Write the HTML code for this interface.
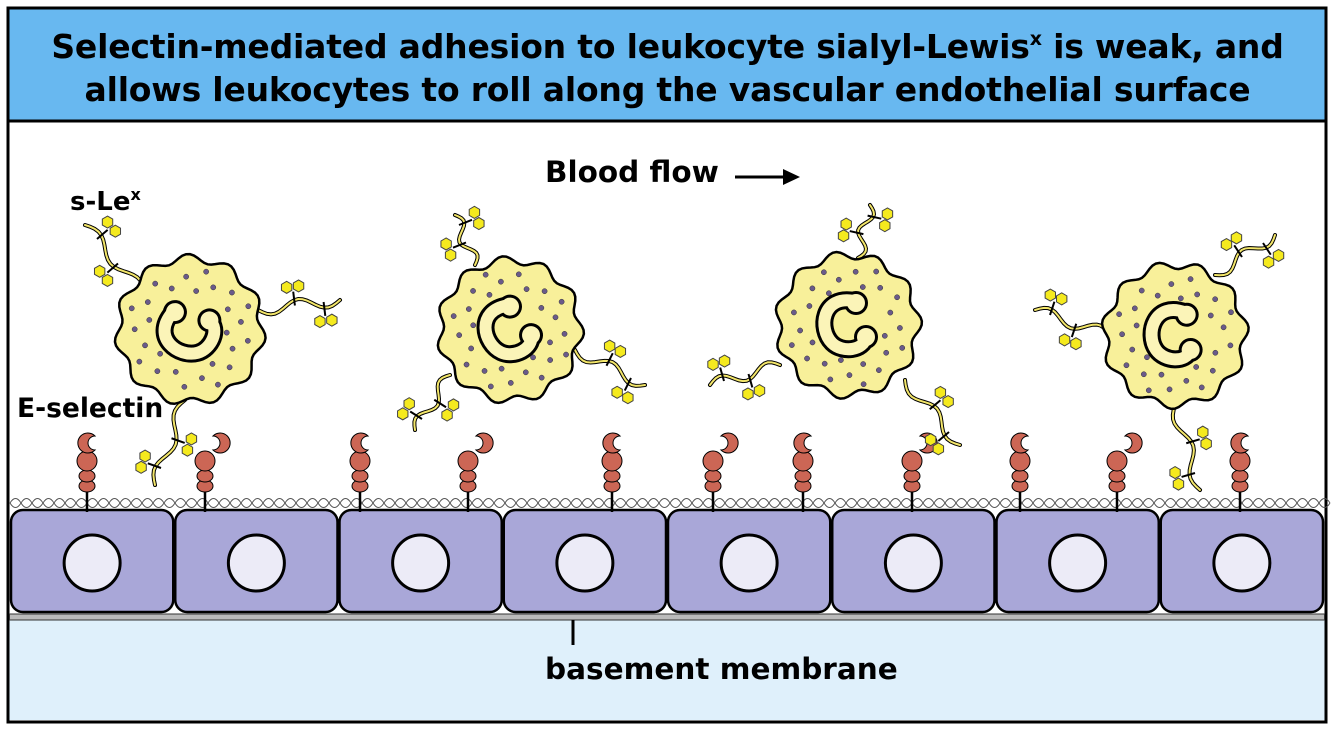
<!DOCTYPE html>
<html><head><meta charset="utf-8"><style>
html,body{margin:0;padding:0;background:#fff;}
body{width:1334px;height:731px;overflow:hidden;position:relative;font-family:"DejaVu Sans","Liberation Sans",sans-serif;}
svg{position:absolute;left:0;top:0;}
.t{position:absolute;font-weight:bold;color:#000;white-space:nowrap;transform-origin:0 0;}
</style></head><body>
<svg id="s" width="1334" height="731" viewBox="0 0 1334 731">
<rect x="8" y="8" width="1318" height="714" fill="#fff" stroke="#000" stroke-width="3"/>
<rect x="9.5" y="9.5" width="1315" height="111" fill="#68b8f0"/>
<line x1="8" y1="121" x2="1326" y2="121" stroke="#000" stroke-width="3"/>
<rect x="9.5" y="620" width="1315" height="100" fill="#dff0fb"/>
<rect x="9.5" y="614" width="1315" height="6" fill="#bbb" stroke="#333" stroke-width="1"/>
<line x1="573" y1="620" x2="573" y2="645" stroke="#000" stroke-width="3"/>
<path d="M735 177 H785" stroke="#000" stroke-width="3"/>
<path d="M783 169 L800 177 L783 185 Z" fill="#000"/>
<g id="g"></g>
</svg>
<div class="t" style="left:10px;width:1315px;top:25px;text-align:center;font-size:33px;line-height:43px;letter-spacing:-0.2px;">Selectin-mediated adhesion to leukocyte sialyl-Lewis<sup style="font-size:19px;vertical-align:13px;line-height:0">x</sup> is weak, and<br>allows leukocytes to roll along the vascular endothelial surface</div>
<div class="t" style="left:545px;top:155px;font-size:29.5px;">Blood flow</div>
<div class="t" style="left:70px;top:187px;font-size:26px;">s-Le<sup style="font-size:16px;vertical-align:10px;line-height:0">x</sup></div>
<div class="t" style="left:17px;top:393px;font-size:26.5px;">E-selectin</div>
<div class="t" style="left:545px;top:652px;font-size:29.5px;">basement membrane</div>
<script>
const NS="http://www.w3.org/2000/svg";const g=document.getElementById('g');
function el(n,a){const e=document.createElementNS(NS,n);for(const k in a)e.setAttribute(k,a[k]);g.appendChild(e);return e;}
let d="";for(let x=10;x<1324;x+=22){d+=`M${x} 503 q5.5 -9 11 0 q5.5 9 11 0 `;}
el('path',{d:d,fill:'none',stroke:'#555','stroke-width':1});
d="";for(let x=10;x<1324;x+=22){d+=`M${x} 503 q5.5 9 11 0 q5.5 -9 11 0 `;}
el('path',{d:d,fill:'none',stroke:'#555','stroke-width':1});
const cw=(1324-10)/8;
for(let i=0;i<8;i++){const x=10+i*cw;
el('rect',{x:x+1,y:510,width:cw-2,height:102,rx:12,fill:'#a9a7d8',stroke:'#000','stroke-width':2.5});
el('circle',{cx:x+cw/2,cy:563,r:28,fill:'#ecebf7',stroke:'#000','stroke-width':3});}
[87,205,360,468,612,713,803,912,1020,1117,1240].forEach((x,i)=>{
el('line',{x1:x,y1:488,x2:x,y2:512,stroke:'#000','stroke-width':2.5});
const c='#cc6655';const st={fill:c,stroke:'#000','stroke-width':1};
el('ellipse',Object.assign({cx:x,cy:486,rx:8,ry:6},st));
el('ellipse',Object.assign({cx:x,cy:476,rx:8,ry:6},st));
el('circle',Object.assign({cx:x,cy:461,r:10},st));
const dir=(i%2==0)?1:-1;
el('path',Object.assign({d:`M${x+8*dir} 436 A10 10 0 1 0 ${x+8*dir} 450 A7 7 0 0 1 ${x+8*dir} 436 Z`,transform:dir<0?`translate(${2*x},0) scale(-1,1)`:''},st));
});
function hex(x,y){let p="";for(let k=0;k<6;k++){const a=Math.PI/3*k+Math.PI/6;p+=(x+6*Math.cos(a))+","+(y+6*Math.sin(a))+" ";}
el('polygon',{points:p,fill:'#f5ea1e',stroke:'#444','stroke-width':1});}
function tether(x0,y0,x1,y1){const dx=x1-x0,dy=y1-y0,L=Math.hypot(dx,dy),nx=-dy/L,ny=dx/L;let p=`M${x0} ${y0}`;
for(let t=1;t<=20;t++){const f=t/20,w=Math.sin(f*Math.PI*3)*6;p+=` L${x0+dx*f+nx*w} ${y0+dy*f+ny*w}`;}
el('path',{d:p,fill:'none',stroke:'#000','stroke-width':4,'stroke-linecap':'round'});
el('path',{d:p,fill:'none',stroke:'#f3e66a','stroke-width':2,'stroke-linecap':'round'});
[0.45,0.8].forEach((f,j)=>{const bx=x0+dx*f,by=y0+dy*f,s=j?1:-1;const hx=bx+nx*14*s,hy=by+ny*14*s;
el('line',{x1:bx,y1:by,x2:hx,y2:hy,stroke:'#000','stroke-width':2});
hex(hx+nx*5*s+dx/L*6,hy+ny*5*s+dy/L*6);hex(hx+nx*5*s-dx/L*6,hy+ny*5*s-dy/L*6);});}
function leuk(cx,cy,r,teth,rot,ang){
teth.forEach(t=>tether(t[0],t[1],t[2],t[3]));
let p="";for(let k=0;k<=120;k++){const a=k/120*2*Math.PI;const rr=r+4*Math.sin(11*a+rot);p+=(k?"L":"M")+(cx+rr*Math.cos(a))+" "+(cy+rr*Math.sin(a));}
el('path',{d:p+"Z",fill:'#f8f09a',stroke:'#000','stroke-width':2.5});
for(let k=0;k<40;k++){const a=k*2.399+rot,rr=r*0.88*Math.sqrt((k+0.5)/40);const x=cx+rr*Math.cos(a),y=cy+rr*Math.sin(a);
if(Math.hypot(x-cx,y-cy)>r*0.5)el('circle',{cx:x,cy:y,r:2.6,fill:'#6a5a8a',stroke:'#333','stroke-width':0.5});}
const gg=el('g',{transform:`rotate(${ang} ${cx} ${cy})`});
const n=`M${cx+6} ${cy-24} C${cx-26} ${cy-30} ${cx-30} ${cy+4} ${cx-16} ${cy+18} C${cx-6} ${cy+28} ${cx+16} ${cy+26} ${cx+18} ${cy+12}`;
function add(nm,a){const e=document.createElementNS(NS,nm);for(const k in a)e.setAttribute(k,a[k]);gg.appendChild(e);}
add('path',{d:n,fill:'none',stroke:'#000','stroke-width':18,'stroke-linecap':'round'});
add('circle',{cx:cx+8,cy:cy-22,r:12,fill:'#000'});add('circle',{cx:cx+18,cy:cy+12,r:12,fill:'#000'});
add('path',{d:n,fill:'none',stroke:'#fbf4b8','stroke-width':12,'stroke-linecap':'round'});
add('circle',{cx:cx+8,cy:cy-22,r:9,fill:'#fbf4b8'});add('circle',{cx:cx+18,cy:cy+12,r:9,fill:'#fbf4b8'});
}
leuk(190,330,72,[[145,295,85,225],[258,310,340,300],[185,400,155,485]],0.3,-60);
leuk(510,330,70,[[475,265,455,215],[450,375,415,430],[575,350,645,385]],1.1,-20);
leuk(848,325,70,[[858,258,870,205],[780,365,710,385],[905,380,960,445]],2.0,0);
leuk(1175,335,70,[[1215,275,1275,235],[1110,335,1035,310],[1175,405,1200,490]],2.7,10);
</script>
</body></html>
